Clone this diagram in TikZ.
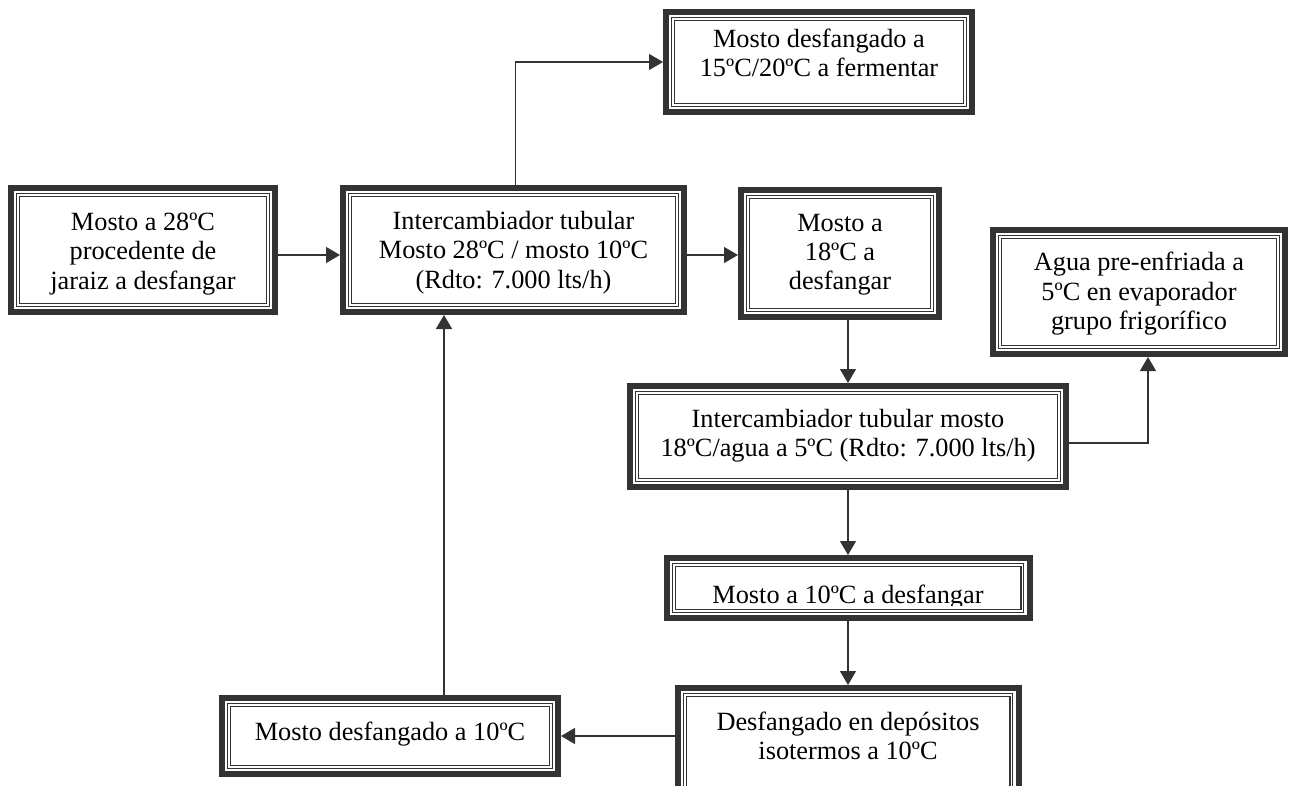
\documentclass[tikz,border=0pt]{standalone}
\usepackage{fontspec}
\setmainfont{Liberation Serif}
\usetikzlibrary{arrows.meta}
\definecolor{dk}{HTML}{333333}
\newcommand\innerframe[1]{\draw[innerln] ([shift={(10.1pt,-10.1pt)}]#1.north west) rectangle ([shift={(-10.1pt,10.1pt)}]#1.south east);}
\begin{document}
\begin{tikzpicture}[x=1pt,y=-1pt,
  frame/.style={draw=dk, fill=white, line width=6pt, inner sep=0pt},
  innerln/.style={draw=dk, double=white, double distance=1.8pt, line width=1.1pt},
  txt/.style={align=center, font=\fontsize{26.3}{29.3}\selectfont, inner sep=0pt, text=black},
  arr/.style={draw=dk, line width=1.3pt, -{Triangle[length=14pt,width=16pt]}}]
\useasboundingbox (0,0) rectangle (1294,785);
\fill[white] (0,0) rectangle (1294,785);
\clip (0,0) rectangle (1294,785);
% frames
\node[frame, minimum width=264pt, minimum height=124pt] (A) at (143,250) {};
\node[frame, minimum width=341pt, minimum height=124pt] (B) at (513.5,250) {};
\node[frame, minimum width=306pt, minimum height=100pt] (C) at (819,62) {};
\node[frame, minimum width=198pt, minimum height=127pt] (D) at (840,253.5) {};
\node[frame, minimum width=292pt, minimum height=124pt] (E) at (1139,292) {};
\node[frame, minimum width=436pt, minimum height=101pt] (F) at (848,436.5) {};
\node[frame, minimum width=363pt, minimum height=60pt] (G) at (848,588) {};
\node[frame, minimum width=341pt, minimum height=109pt] (H) at (848,742.5) {};
\node[frame, minimum width=336pt, minimum height=76pt] (I) at (390,736) {};
% texts
\node[txt] (At) at (143,253.8) {Mosto a 28ºC\\procedente de\\jaraiz a desfangar};
\node[txt] (Bt) at (513.5,252.5) {Intercambiador tubular\\Mosto 28ºC / mosto 10ºC\\(Rdto: 7.000 lts/h)};
\node[txt] (Ct) at (819,52.7) {Mosto desfangado a\\15ºC/20ºC a fermentar};
\node[txt] (Dt) at (840,254.7) {Mosto a\\18ºC a\\desfangar};
\node[txt] (Et) at (1139,293.8) {Agua pre-enfriada a\\5ºC en evaporador\\grupo frigorífico};
\node[txt] (Ft) at (848,435.5) {Intercambiador tubular mosto\\18ºC/agua a 5ºC (Rdto: 7.000 lts/h)};
\node[txt] (Gt) at (848,596.8) {Mosto a 10ºC a desfangar};
\node[txt] (Ht) at (848,736) {Desfangado en depósitos\\isotermos a 10ºC};
\node[txt] (It) at (390,733.8) {Mosto desfangado a 10ºC};
% clipped descenders in G
\fill[white] ([shift={(6pt,15pt)}]G.south west) rectangle ([shift={(-6pt,6pt)}]G.south east);
% inner lines
\innerframe{A}\innerframe{B}\innerframe{C}\innerframe{D}\innerframe{E}
\innerframe{F}\innerframe{G}\innerframe{H}\innerframe{I}
% connectors
\draw[arr] ([yshift=-5pt]A.east) -- ([yshift=-5pt]B.west);
\draw[arr] ([yshift=-5pt]B.east) -- ([yshift=-5pt]B.east -| D.west);
\draw[arr] ([xshift=2pt]B.north) |- (C.west);
\draw[arr] (D.south -| F.north) -- (F.north);
\draw[arr] (F.south) -- (F.south |- G.north);
\draw[arr] (G.south) -- (G.south |- H.north);
\draw[arr] (H.west |- I.east) -- (I.east);
\draw[arr] ([xshift=54pt]I.north) -- ([xshift=54pt]I.north |- B.south);
\draw[arr] ([yshift=-6.5pt]F.east) -| ([xshift=9pt]E.south);
\end{tikzpicture}
\end{document}
